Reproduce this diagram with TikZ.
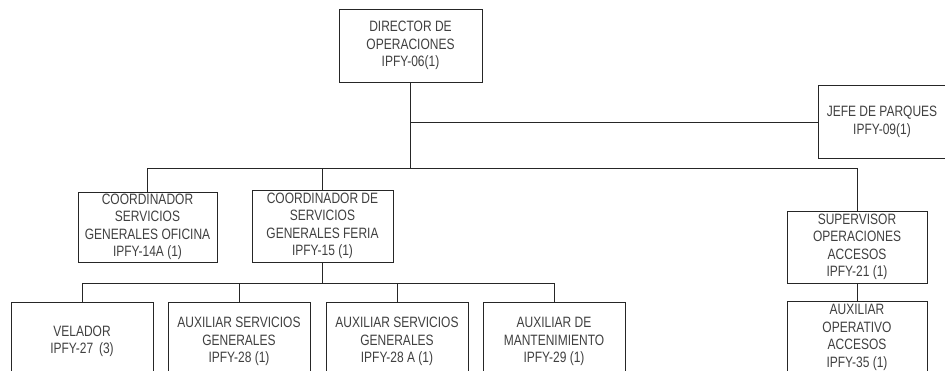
\documentclass[tikz,border=0pt]{standalone}
\usepackage{fontspec}
\setmainfont[FakeStretch=0.8]{Liberation Sans}
\definecolor{texto}{HTML}{404040}
\tikzset{
  puesto/.style={draw=black!85, line width=1pt, minimum width=141pt,
    minimum height=72pt, inner sep=0pt, align=center, text=texto,
    font=\fontsize{15}{17.5}\selectfont},
  linea/.style={draw=black!85, line width=1pt}
}
\begin{document}
\begin{tikzpicture}[x=1pt, y=-1pt]
      \useasboundingbox (0,0) rectangle (945,370);
      \fill[white] (0,0) rectangle (945,370);
      \clip (0,0) rectangle (945,370);
      \node[puesto, minimum width=143pt, minimum height=73pt] (dir) at (410.5,45.5)
        {DIRECTOR DE\\OPERACIONES\\IPFY-06(1)};
      \node[puesto, minimum width=128pt, minimum height=73pt] (jefe) at (882,122)
        {JEFE DE PARQUES\\IPFY-09(1)};
      \node[puesto, minimum width=139pt, minimum height=70pt] (ofi) at (147.5,227)
        {COORDINADOR\\SERVICIOS\\GENERALES OFICINA\\IPFY-14A (1)};
      \node[puesto] (feria) at (322.5,226)
        {COORDINADOR DE\\SERVICIOS\\GENERALES FERIA\\IPFY-15 (1)};
      \node[puesto, minimum width=140pt] (sup) at (857,247)
        {SUPERVISOR\\OPERACIONES\\ACCESOS\\IPFY-21 (1)};
      \node[puesto, minimum width=140pt, anchor=north] (opacc) at (857,301)
        {AUXILIAR\\OPERATIVO\\ACCESOS\\IPFY-35 (1)};
      \node[puesto, minimum width=142pt, minimum height=78pt, anchor=north] (vel) at (82,302)
        {VELADOR\\IPFY-27 \,(3)};
      \node[puesto, minimum width=142pt, minimum height=78pt, anchor=north] (aux28) at (239,302)
        {AUXILIAR SERVICIOS\\GENERALES\\IPFY-28 (1)};
      \node[puesto, minimum width=142pt, minimum height=78pt, anchor=north] (aux28a) at (397,302)
        {AUXILIAR SERVICIOS\\GENERALES\\IPFY-28 A (1)};
      \node[puesto, minimum width=142pt, minimum height=78pt, anchor=north] (mant) at (554,302)
        {AUXILIAR DE\\MANTENIMIENTO\\IPFY-29 (1)};
      \begin{scope}[linea]
        \draw (dir.south) -- ++(0,86) coordinate (bus1);
        \draw (dir.south |- jefe.west) -- (jefe.west);
        \draw (ofi.north) |- (bus1) -| (sup.north);
        \draw (feria.north) -- (feria.north |- bus1);
        \draw (feria.south) -- ++(0,21) coordinate (bus2);
        \draw (vel.north) |- (bus2) -| (mant.north);
        \draw (aux28.north) -- (aux28.north |- bus2);
        \draw (aux28a.north) -- (aux28a.north |- bus2);
        \draw (sup.south) -- (opacc.north);
      \end{scope}
    \end{tikzpicture}
\end{document}
